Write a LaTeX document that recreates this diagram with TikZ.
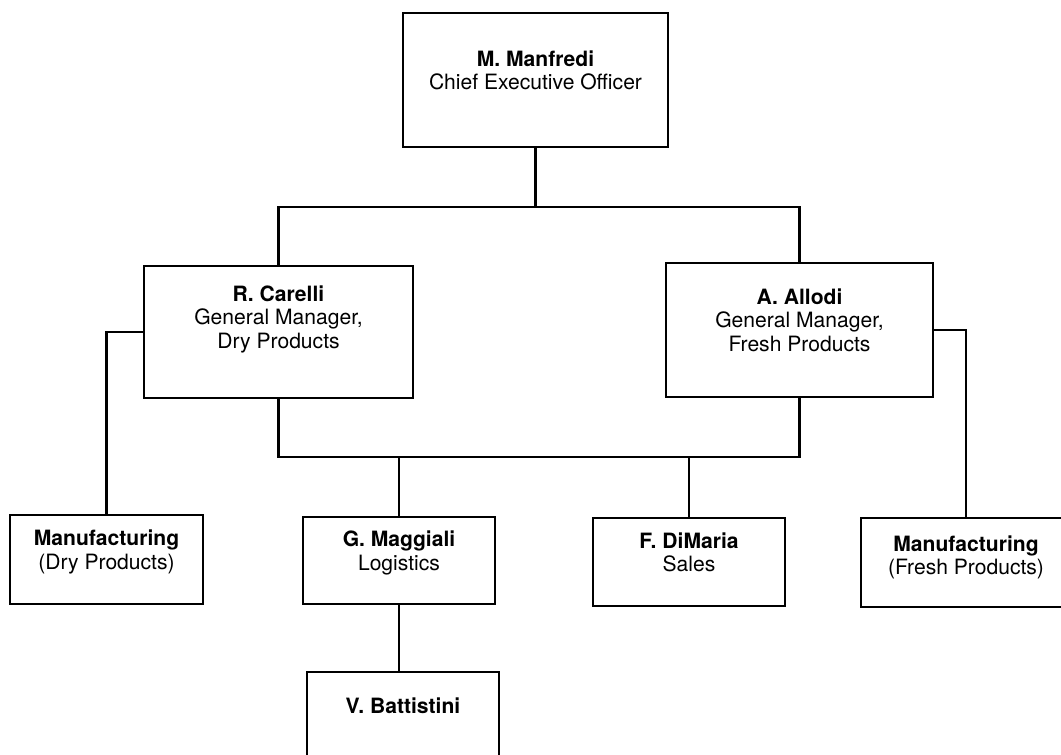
\documentclass[tikz,border=0pt]{standalone}
\usepackage{fontspec}
\setmainfont{TeX Gyre Heros}
\begin{document}
\begin{tikzpicture}[
		caja/.style={draw, line width=1.3pt, align=center, inner sep=0pt, text depth=0.4cm, font=\fontsize{12}{13.4}\selectfont},
		linea/.style={line width=1.3pt}]
		% marco
		\useasboundingbox (0,0) rectangle (21.22,15.10);
		
		% direccion
		\node[caja, minimum width=5.30cm, minimum height=2.68cm] (ceo) at (10.71,13.50) {\textbf{M. Manfredi}\\Chief Executive Officer};
		
		% gerentes
		\node[caja, minimum width=5.38cm, minimum height=2.64cm, text depth=0.6cm] (carelli) at (5.57,8.46) {\textbf{R. Carelli}\\General Manager,\\Dry Products};
		\node[caja, minimum width=5.34cm, minimum height=2.68cm] (allodi) at (15.99,8.50) {\textbf{A. Allodi}\\General Manager,\\Fresh Products};
		
		% areas
		\node[caja, minimum width=3.86cm, minimum height=1.78cm] (mfgdry) at (2.13,3.91) {\textbf{Manufacturing}\\(Dry Products)};
		\node[caja, minimum width=3.84cm, minimum height=1.74cm] (maggiali) at (7.98,3.89) {\textbf{G. Maggiali}\\Logistics};
		\node[caja, minimum width=3.84cm, minimum height=1.76cm] (dimaria) at (13.78,3.86) {\textbf{F. DiMaria}\\Sales};
		\node[caja, minimum width=4.20cm, minimum height=1.78cm, text depth=0.3cm] (mfgfresh) at (19.32,3.85) {\textbf{Manufacturing}\\(Fresh Products)};
		\node[caja, minimum width=3.84cm, minimum height=1.76cm] (battistini) at (8.06,0.78) {\textbf{V. Battistini}};
		
		% buses
		\coordinate (busarriba) at (10.71,10.96);
		\coordinate (busabajo) at (10.71,5.96);
		
		% lineas
		\draw[linea] (ceo.south) -- (busarriba);
		\draw[linea] (carelli.north) |- (busarriba) -| (allodi.north);
		\draw[linea] (carelli.south) |- (busabajo) -| (allodi.south);
		\draw[linea] (maggiali.north) -- (maggiali.north |- busabajo);
		\draw[linea] (dimaria.north) -- (dimaria.north |- busabajo);
		\draw[linea] (carelli.west) -| (mfgdry.north);
		\draw[linea] (allodi.east) -| (mfgfresh.north);
		\draw[linea] (maggiali.south) -- (maggiali.south |- battistini.north);
	\end{tikzpicture}
\end{document}
